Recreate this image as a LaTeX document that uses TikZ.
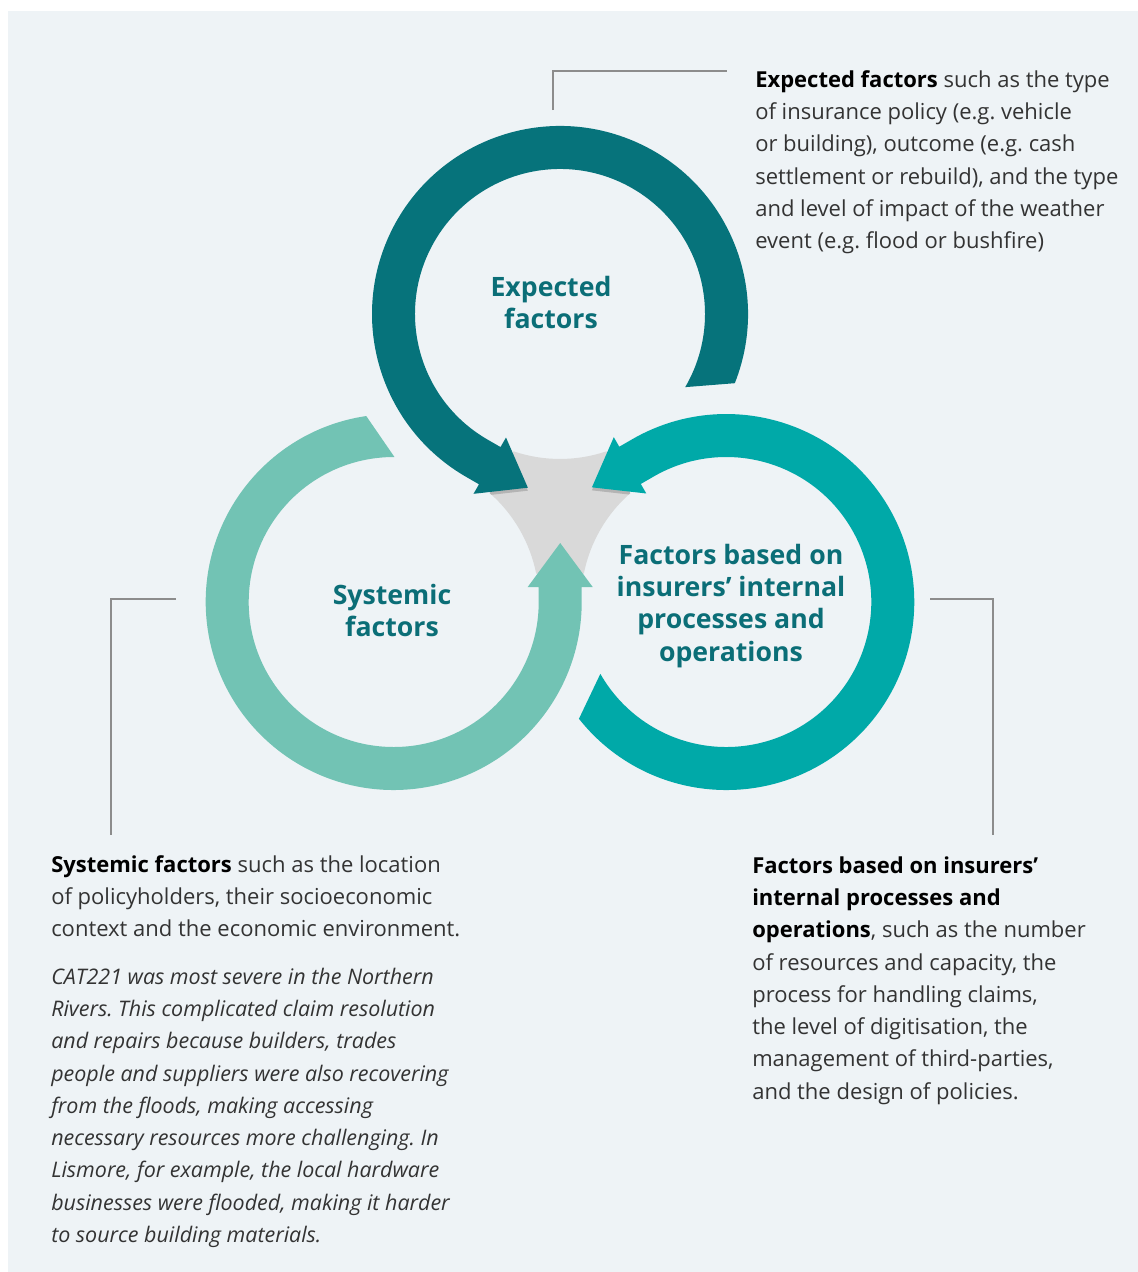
\documentclass[tikz,border=0pt]{standalone}
\usepackage{fontspec}
\setmainfont{Open Sans}
\usepackage{tikz}
\usetikzlibrary{positioning}
\frenchspacing

\definecolor{bgpanel}{HTML}{EEF3F6}
\definecolor{expcol}{HTML}{06737B}
\definecolor{intcol}{HTML}{00A9A8}
\definecolor{syscol}{HTML}{72C3B4}
\definecolor{headcol}{HTML}{0B6E77}
\definecolor{hubgray}{HTML}{D9D9D9}
\definecolor{hubshade}{HTML}{B4B4B4}
\definecolor{leadgray}{HTML}{8C8C8C}
\definecolor{bodytext}{HTML}{333333}

% one ring with its arrow head, centre of the ring at the origin
\newcommand{\ringpath}{(98.4:188) arc[start angle=98.4,end angle=360,radius=188]
  -- (188,15) -- (199,15) -- (166.5,59) -- (134,15) -- (145,15) -- (145,0)
  arc[start angle=0,end angle=-270.3,radius=145] -- cycle}
% grey hub between the three rings, centre of the figure at the origin
\newcommand{\hubpath}{(-46.5,54.7) arc[start angle=251.3,end angle=288.7,radius=145]
  -- (70.3,12.9) arc[start angle=131.3,end angle=168.7,radius=145]
  -- (-23.8,-67.6) arc[start angle=11.3,end angle=48.7,radius=145] -- cycle}

\tikzset{
  bodyblock/.style={anchor=north west,inner sep=0pt,align=left,text=bodytext,
    font=\fontsize{16.5}{24.2}\selectfont},
  ringlabel/.style={anchor=north,inner sep=0pt,align=center,text=headcol,
    font=\fontsize{20}{24.2}\selectfont\bfseries},
  leader/.style={draw=leadgray,line width=1.1pt},
}
\newcommand{\lead}[1]{\textcolor{black}{\textbf{#1}}}

\begin{document}
\begin{tikzpicture}[x=0.75pt,y=-0.75pt]
		\useasboundingbox (0,0) rectangle (1138,1272);
		\fill[bgpanel] (8,11) rectangle (1138,1272);
		%
		\begin{scope}[shift={(560,506)},yscale=-1]
			\fill[hubgray] \hubpath;
			\begin{scope}
				\clip \hubpath;
				\foreach \a in {0,120,-120}
					\fill[hubshade,shift={(0,-3)},rotate=\a,shift={(-166.3,-96)}] \ringpath;
			\end{scope}
			\fill[syscol,shift={(-166.3,-96)}] \ringpath;
			\fill[intcol,rotate=-120,shift={(-166.3,-96)}] \ringpath;
			\fill[expcol,rotate=120,shift={(-166.3,-96)}] \ringpath;
		\end{scope}
		%
		\node[ringlabel] (explabel) at (551,273.4) {\strut Expected\\factors};
		\node[ringlabel] (syslabel) at (392,581.4) {\strut Systemic\\factors};
		\node[ringlabel] (intlabel) at (731,541.4) {\strut Factors based on\\insurers’ internal\\processes and\\operations};
		%
		\node[bodyblock] (exptext) at (755,64.4) {\strut\lead{Expected factors} such as the type\\
			of insurance policy (e.g. vehicle\\
			or building), outcome (e.g. cash\\
			settlement or rebuild), and the type\\
			and level of impact of the weather\\
			event (e.g. flood or bushfire)};
		\node[bodyblock] (systext) at (51,849.4) {\strut\lead{Systemic factors} such as the location\\
			of policyholders, their socioeconomic\\
			context and the economic environment.};
		\node[bodyblock,font=\fontsize{16.1}{24.2}\selectfont\itshape] (sysnote) at (51,961.4) {\strut CAT221 was most severe in the Northern\\
			Rivers. This complicated claim resolution\\
			and repairs because builders, trades\\
			people and suppliers were also recovering\\
			from the floods, making accessing\\
			necessary resources more challenging. In\\
			Lismore, for example, the local hardware\\
			businesses were flooded, making it harder\\
			to source building materials.};
		\node[bodyblock] (inttext) at (752,850.4) {\strut\lead{Factors based on insurers’}\\
			\lead{internal processes and}\\
			\lead{operations}, such as the number\\
			of resources and capacity, the\\
			process for handling claims,\\
			the level of digitisation, the\\
			management of third-parties,\\
			and the design of policies.};
		%
		\coordinate (expfoot) at (553,110);
		\coordinate (exptip) at (727,71);
		\coordinate (sysfoot) at (176,599);
		\coordinate (systip) at (111,835);
		\coordinate (intfoot) at (930,599);
		\coordinate (inttip) at (993,835);
		\draw[leader] (expfoot) |- (exptip);
		\draw[leader] (sysfoot) -| (systip);
		\draw[leader] (intfoot) -| (inttip);
\end{tikzpicture}
\end{document}
